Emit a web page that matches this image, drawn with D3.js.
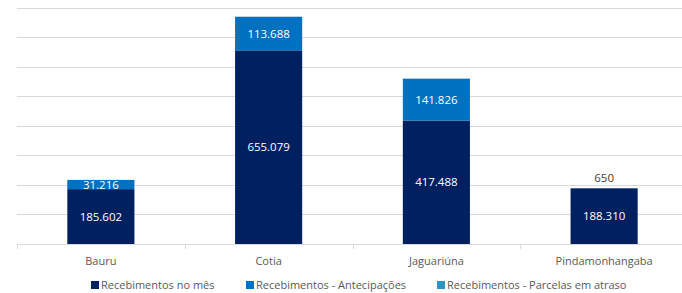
<!DOCTYPE html>
<html><head><meta charset="utf-8">
<script src="https://cdn.jsdelivr.net/npm/d3@7"></script>
<style>body{margin:0;background:#fff}svg{display:block}text{font-family:"Open Sans",sans-serif}</style>
</head><body><svg id="c" width="682" height="293"></svg>
<script>
const categories = ["Bauru","Cotia","Jaguariúna","Pindamonhangaba"];
const seriesNames = ["Recebimentos no mês","Recebimentos - Antecipações","Recebimentos - Parcelas em atraso"];
const noMes = [185602, 655079, 417488, 188310];
const antecipacoes = [31216, 113688, 141826, 650];
const atraso = [0, 0, 0, 0];
const colors = ["#002060","#0070C0","#3193C2"];
const yTicks = [0,100000,200000,300000,400000,500000,600000,700000,800000];

const svg = d3.select("#c");
const x = d3.scaleBand().domain(categories).range([17, 688]).paddingInner(0.6).paddingOuter(0.3);
const y = d3.scaleLinear().domain([0, 800000]).range([244, 7.5]);
const fmt = v => d3.format(",")(v).replace(/,/g, ".");

svg.append("g").selectAll("line").data(yTicks).join("line")
  .attr("x1", 17).attr("x2", 682)
  .attr("y1", d => Math.round(y(d)) + 0.5).attr("y2", d => Math.round(y(d)) + 0.5)
  .attr("stroke", "#d9d9d9").attr("stroke-width", 1);

const bw = x.step();
const bounds = d3.range(categories.length + 1).map(i => 17 + i * bw);
svg.append("g").selectAll("line").data(bounds).join("line")
  .attr("x1", d => Math.round(d) + 0.5).attr("x2", d => Math.round(d) + 0.5)
  .attr("y1", 244).attr("y2", 249).attr("stroke", "#d9d9d9");

const rows = categories.map((c, i) => ({cat: c, s0: noMes[i], s1: antecipacoes[i], s2: atraso[i]}));
const stack = d3.stack().keys(["s0","s1","s2"])(rows);

stack.forEach((layer, li) => {
  svg.append("g").selectAll("rect").data(layer).join("rect")
    .attr("x", d => x(d.data.cat)).attr("width", x.bandwidth())
    .attr("y", d => y(d[1])).attr("height", d => y(d[0]) - y(d[1]))
    .attr("fill", colors[li]);
});

stack.forEach((layer, li) => {
  layer.forEach(d => {
    const v = d[1] - d[0];
    if (!v) return;
    const h = y(d[0]) - y(d[1]);
    const cx = x(d.data.cat) + x.bandwidth() / 2;
    if (h >= 5) {
      svg.append("text").attr("x", cx).attr("y", (y(d[0]) + y(d[1])) / 2)
        .attr("dy", "0.36em").attr("text-anchor", "middle")
        .attr("font-size", 11.5).attr("fill", "#ffffff").text(fmt(v));
    } else {
      svg.append("text").attr("x", cx).attr("y", y(d[1]) - 6)
        .attr("text-anchor", "middle")
        .attr("font-size", 11.5).attr("fill", "#404040").text(fmt(v));
    }
  });
});

svg.append("g").selectAll("text").data(categories).join("text")
  .attr("x", d => x(d) + x.bandwidth() / 2).attr("y", 261).attr("dy", "0.36em")
  .attr("text-anchor", "middle").attr("font-size", 11).attr("fill", "#595959").text(d => d);

const legX = [91, 246, 437];
const lg = svg.append("g").selectAll("g").data(seriesNames).join("g")
  .attr("transform", (d, i) => `translate(${legX[i]},285)`);
lg.append("rect").attr("x", 0).attr("y", -4).attr("width", 8).attr("height", 8)
  .attr("fill", (d, i) => colors[i]);
lg.append("text").attr("x", 10).attr("y", 0).attr("dy", "0.36em")
  .attr("font-size", 11).attr("fill", "#595959").text(d => d);
</script></body></html>
